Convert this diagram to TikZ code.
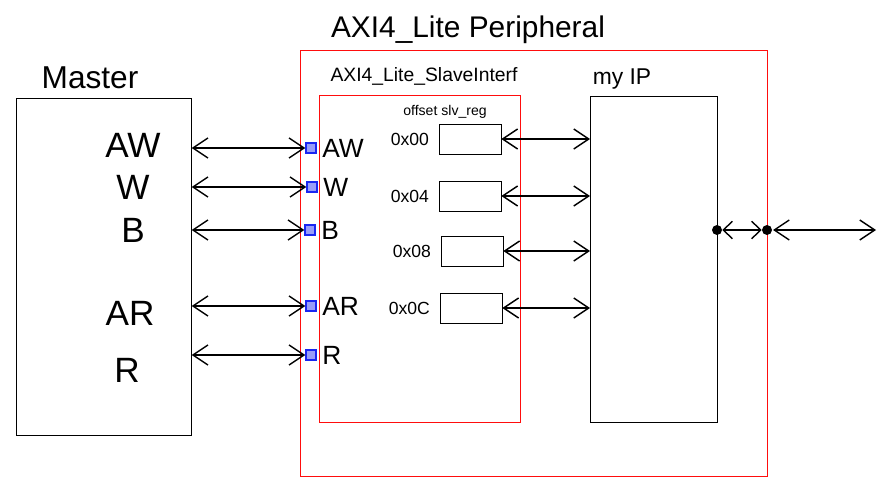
\documentclass[tikz,border=0pt]{standalone}
\usepackage{fontspec}
\setmainfont{Liberation Sans}
\usetikzlibrary{positioning,arrows.meta}
\definecolor{wrap}{rgb}{1.00,0.05,0.05}
\definecolor{portc}{rgb}{0.10,0.15,0.95}

\begin{document}
\begin{tikzpicture}[
    x=0.02cm, y=-0.02cm,
    every node/.style={font=\normalsize},
    block/.style={
        rectangle, draw, thin, anchor=north west, inner sep=0pt
    },
    redblock/.style={
        rectangle, draw=wrap, thin, anchor=north west, inner sep=0pt
    },
    reg/.style={
        rectangle, draw, thin, minimum width=12.4mm, minimum height=6mm, inner sep=0pt
    },
    port/.style={
        rectangle, draw=portc, fill=portc!45, thick, minimum size=2mm, inner sep=0pt
    },
    dot/.style={circle, fill, inner sep=0pt, minimum size=2mm},
    bus/.style={{Straight Barb[length=3mm,width=4mm]}-{Straight Barb[length=3mm,width=4mm]}, thick},
    shortbus/.style={{Straight Barb[length=1.8mm,width=3.5mm]}-{Straight Barb[length=1.8mm,width=3.5mm]}, thick},
    sig/.style={font=\fontsize{20}{24}\selectfont},
    insig/.style={font=\fontsize{15}{17}\selectfont, inner sep=1pt}
]
\useasboundingbox (0,0) rectangle (884,500);

% Blocks
\node[block, minimum width=35mm, minimum height=67.4mm]     (master) at (16, 98)  {};
\node[redblock, minimum width=93.4mm, minimum height=85.2mm] (periph) at (300, 50) {};
\node[redblock, minimum width=40.2mm, minimum height=65.4mm] (slave)  at (319, 95) {};
\node[block, minimum width=25.4mm, minimum height=65.2mm]   (myip)   at (590, 96) {};

% Titles
\node[font=\fontsize{17}{20}\selectfont] (tperiph) at (468, 30) {AXI4\_Lite Peripheral};
\node[font=\fontsize{18}{22}\selectfont] (tmaster) at (90, 78)  {Master};
\node[font=\fontsize{11}{13}\selectfont] (tslave)  at (424, 76) {AXI4\_Lite\_SlaveInterf};
\node[font=\fontsize{13}{15}\selectfont] (tmyip)   at (622, 79) {my IP};
\node[font=\fontsize{8}{10}\selectfont]  (toff)    at (445, 112) {offset slv\_reg};

% Master channels
\node[sig] (mAW) at (133, 145) {AW};
\node[sig] (mW)  at (133, 187) {W};
\node[sig] (mB)  at (133, 230) {B};
\node[sig] (mAR) at (130, 313) {AR};
\node[sig] (mR)  at (127, 370) {R};

% Slave ports
\node[port] (pAW) at (311, 148) {};
\node[port] (pW)  at (312, 187) {};
\node[port] (pB)  at (310, 230) {};
\node[port] (pAR) at (311, 306) {};
\node[port] (pR)  at (311, 355) {};
\foreach \p in {AW,W,B,AR,R} {
  \node[insig, right=2pt of p\p] (s\p) {\p};
}

% Channel buses
\foreach \p in {AW,W,B,AR,R} {
  \draw[bus] (master.east |- p\p) -- (p\p.west);
}

% ── slv_reg bank ────────────────────────────────────────────
\node[reg] (reg0) at (470, 139) {};
\node[reg] (reg1) at (470, 196) {};
\node[reg] (reg2) at (472, 251) {};
\node[reg] (reg3) at (471, 308) {};
\node[font=\fontsize{10}{12}\selectfont, left=2pt of reg0] (a0) {0x00};
\node[font=\fontsize{10}{12}\selectfont, left=2pt of reg1] (a1) {0x04};
\node[font=\fontsize{10}{12}\selectfont, left=2pt of reg2] (a2) {0x08};
\node[font=\fontsize{10}{12}\selectfont, left=2pt of reg3] (a3) {0x0C};
\foreach \r in {0,1,2,3} {
  \draw[bus] (reg\r.east) -- (myip.west |- reg\r.east);
}

% ── external port of my IP ──────────────────────────────────
\node[dot] (dIP)  at (717, 230) {};
\node[dot] (dOut) at (767, 230) {};
\coordinate (ext) at (876, 230);
\draw[shortbus] (dIP) -- (dOut);
\draw[bus] (dOut) ++(6,0) coordinate (extA) -- (ext);

\end{tikzpicture}
\end{document}
